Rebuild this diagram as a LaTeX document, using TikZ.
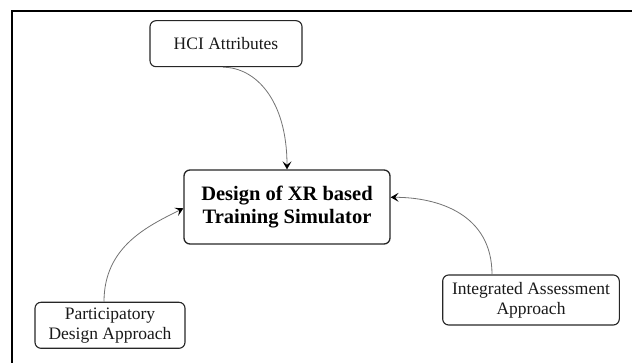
\documentclass[tikz,border=0pt]{standalone}
\usepackage{fontspec}
\setmainfont{Liberation Serif}
\usetikzlibrary{arrows.meta}
\begin{document}
\begin{tikzpicture}[x=1pt,y=1pt,
  box/.style={draw=black!85, line width=1.1pt, rounded corners=6pt,
    align=center, inner sep=0pt, text=black!90,
    font=\fontsize{17.5}{20}\selectfont},
  mainbox/.style={box, line width=1.3pt, text=black,
    font=\fontsize{20.5}{23}\selectfont\bfseries},
  link/.style={draw=black!55, line width=0.8pt,
    -{Stealth[black, length=8pt, width=9pt, inset=3.5pt]}}]
  \useasboundingbox (0,0) rectangle (632,363);
  % frame edges
  \draw[line width=2pt] (11.7,0) -- (11.7,352) -- (632,352);
  % boxes
  \node[box, minimum width=152pt, minimum height=46pt] (hci) at (226,319.3) {HCI Attributes};
  \node[mainbox, minimum width=206pt, minimum height=74pt] (main) at (287,156)
    {Design of XR based\\Training Simulator};
  \node[box, minimum width=176.6pt, minimum height=50pt] (iaa) at (531,63)
    {Integrated Assessment\\Approach};
  \node[box, minimum width=150pt, minimum height=46pt] (pda) at (110,37.7)
    {Participatory\\Design Approach};
  % connectors
  \draw[link] ([xshift=-3pt]hci.south) .. controls +(32,0) and +(0,70) .. (main.north);
  \draw[link] ([xshift=-39pt]iaa.north) .. controls +(0,60) and +(48,0) .. ([yshift=9.7pt]main.east);
  \draw[link] ([xshift=-6pt]pda.north) .. controls +(0,55) and +(-36,-18) .. ([yshift=-1.3pt]main.west);
\end{tikzpicture}
\end{document}
